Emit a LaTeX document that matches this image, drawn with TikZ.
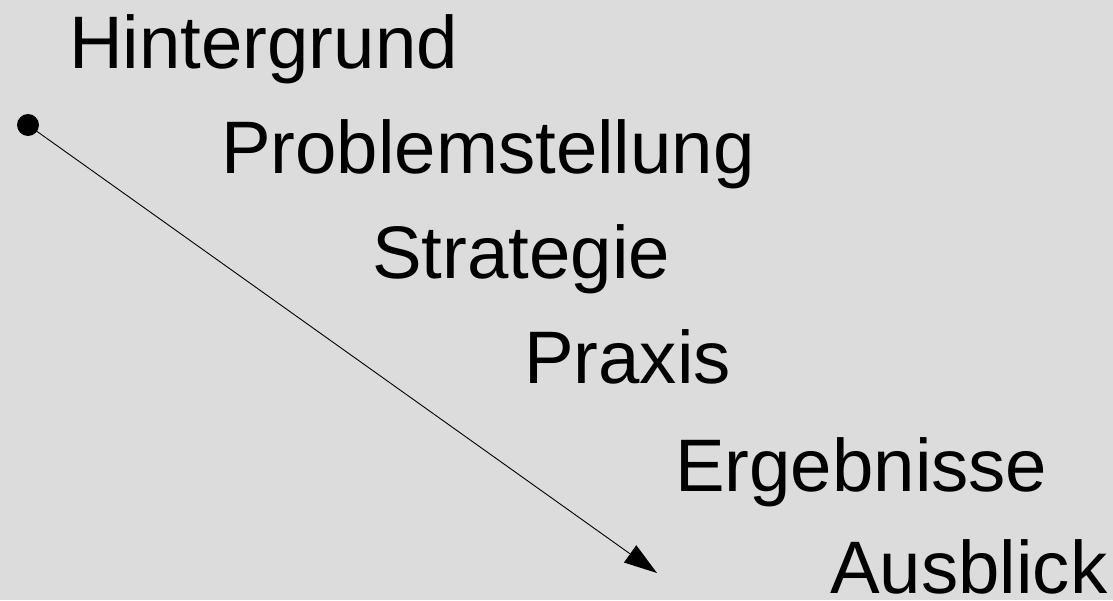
\documentclass[tikz,border=0pt]{standalone}
\usepackage{fontspec}
\setmainfont{Liberation Sans}
\usetikzlibrary{arrows.meta}
\definecolor{bg}{HTML}{DCDCDC}
\tikzset{
  item/.style={anchor=base west, inner sep=0pt, font=\fontsize{74.4}{80}\selectfont},
  dot/.style={circle, fill=black, inner sep=0pt, minimum size=22pt},
  flow/.style={line width=0.9pt, -{Triangle[length=33pt,width=21pt]}}
}
\begin{document}
\begin{tikzpicture}[x=1pt,y=-1pt]
\fill[bg] (0,0) rectangle (1113,600);
\useasboundingbox (0,0) rectangle (1113,600);
\node[item] (h) at (69,68) {Hintergrund};
\node[item] (p) at (221,173) {Problemstellung};
\node[item] (s) at (372,278) {Strategie};
\node[item] (x) at (524,383) {Praxis};
\node[item] (e) at (675,491) {Ergebnisse};
\node[item] (a) at (830,593) {Ausblick};
\node[dot] (start) at (28,125) {};
\coordinate (end) at (657,573);
\draw[flow] (start.center) -- (end);
\end{tikzpicture}
\end{document}
